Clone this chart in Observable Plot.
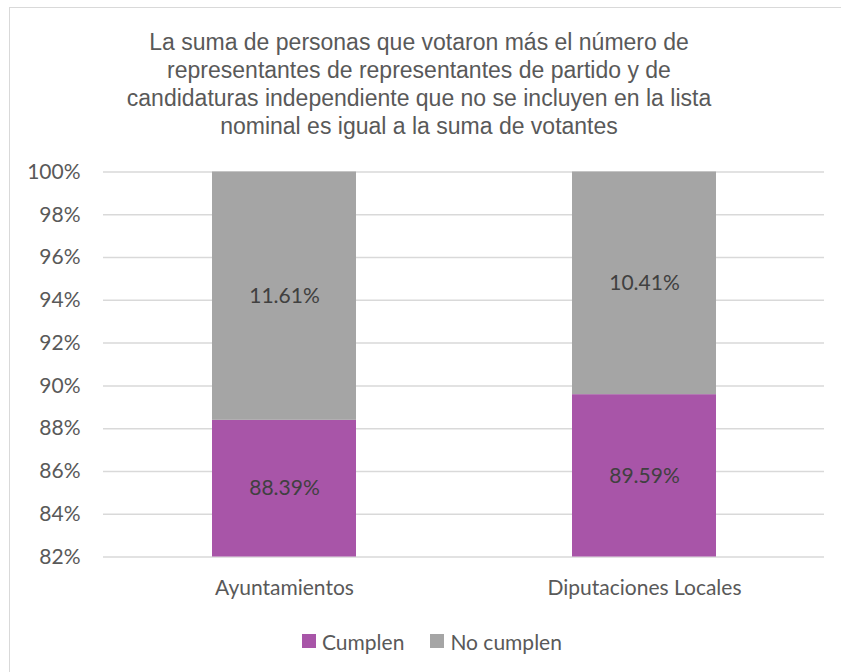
<!DOCTYPE html>
<html>
<head>
<meta charset="utf-8">
<script src="https://cdn.jsdelivr.net/npm/d3@7"></script>
<script src="https://cdn.jsdelivr.net/npm/@observablehq/plot@0.6"></script>
<style>
  html, body { margin: 0; padding: 0; background: #fff; }
  #wrap { position: relative; width: 841px; height: 672px; overflow: hidden; }
  #border { position: absolute; left: 9px; top: 7px; width: 900px; height: 800px; border: 1px solid #d9d9d9; box-sizing: border-box; }
  #title { position: absolute; left: 0; width: 838px; top: 28px; text-align: center; font-family: "Liberation Sans", Arial, sans-serif; font-size: 23px; line-height: 28px; color: #595959; }
  #chart { position: absolute; left: 0; top: 0; }
  #legend { position: absolute; top: 627px; left: 302px; height: 28px; display: flex; align-items: center; font-family: Lato, "Open Sans", sans-serif; font-size: 21px; color: #595959; }
  .sw { width: 14px; height: 14px; display: inline-block; margin-right: 6px; }
  .item { display: flex; align-items: center; margin-right: 26px; }
</style>
</head>
<body>
<div id="wrap">
  <div id="border"></div>
  <div id="chart"></div>
  <div id="title"></div>
  <div id="legend"></div>
</div>
<script>
const titleLines = [
  "La suma de personas que votaron más el número de",
  "representantes de representantes de partido y de",
  "candidaturas independiente que no se incluyen en la lista",
  "nominal es igual a la suma de votantes"
];
const categories = ["Ayuntamientos", "Diputaciones Locales"];
const series = ["Cumplen", "No cumplen"];
const cumplen = [88.39, 89.59];
const noCumplen = [11.61, 10.41];
const yTicks = [82, 84, 86, 88, 90, 92, 94, 96, 98, 100];
const colors = ["#A855A8", "#A5A5A5"];
const yMin = 82, yMax = 100;

document.getElementById("title").innerHTML = titleLines.join("<br>");

const rows = [];
categories.forEach((c, i) => {
  rows.push({cat: c, serie: series[0], y1: yMin, y2: cumplen[i], v: cumplen[i]});
  rows.push({cat: c, serie: series[1], y1: cumplen[i], y2: cumplen[i] + noCumplen[i], v: noCumplen[i]});
});

const font = "Lato, 'Open Sans', sans-serif";
const chart = Plot.plot({
  width: 841,
  height: 672,
  marginLeft: 103,
  marginRight: 17,
  marginTop: 171.5,
  marginBottom: 115.5,
  style: {fontFamily: font, fontSize: "21px", color: "#595959", background: "transparent"},
  x: {domain: categories, paddingInner: 0.6, paddingOuter: 0.3, label: null},
  y: {domain: [yMin, yMax], label: null},
  color: {domain: series, range: colors},
  marks: [
    Plot.gridY(yTicks, {stroke: "#d9d9d9", strokeOpacity: 1, strokeWidth: 1.5}),
    Plot.barY(rows, {x: "cat", y1: "y1", y2: "y2", fill: "serie"}),
    Plot.text(rows, {x: "cat", y: d => (d.y1 + Math.min(d.y2, yMax)) / 2, text: d => d.v.toFixed(2) + "%", fill: "#404040", fontSize: 21}),
    Plot.axisX({tickSize: 0, tickPadding: 23, fontSize: 21, fill: "#595959"}),
    Plot.axisY({ticks: yTicks, tickFormat: d => d + "%", tickSize: 0, tickPadding: 23, fontSize: 21, fill: "#595959"})
  ]
});
document.getElementById("chart").appendChild(chart);

const lg = document.getElementById("legend");
series.forEach((s, i) => {
  const it = document.createElement("div");
  it.className = "item";
  const sw = document.createElement("span");
  sw.className = "sw";
  sw.style.background = colors[i];
  it.appendChild(sw);
  it.appendChild(document.createTextNode(s));
  lg.appendChild(it);
});
</script>
</body>
</html>
